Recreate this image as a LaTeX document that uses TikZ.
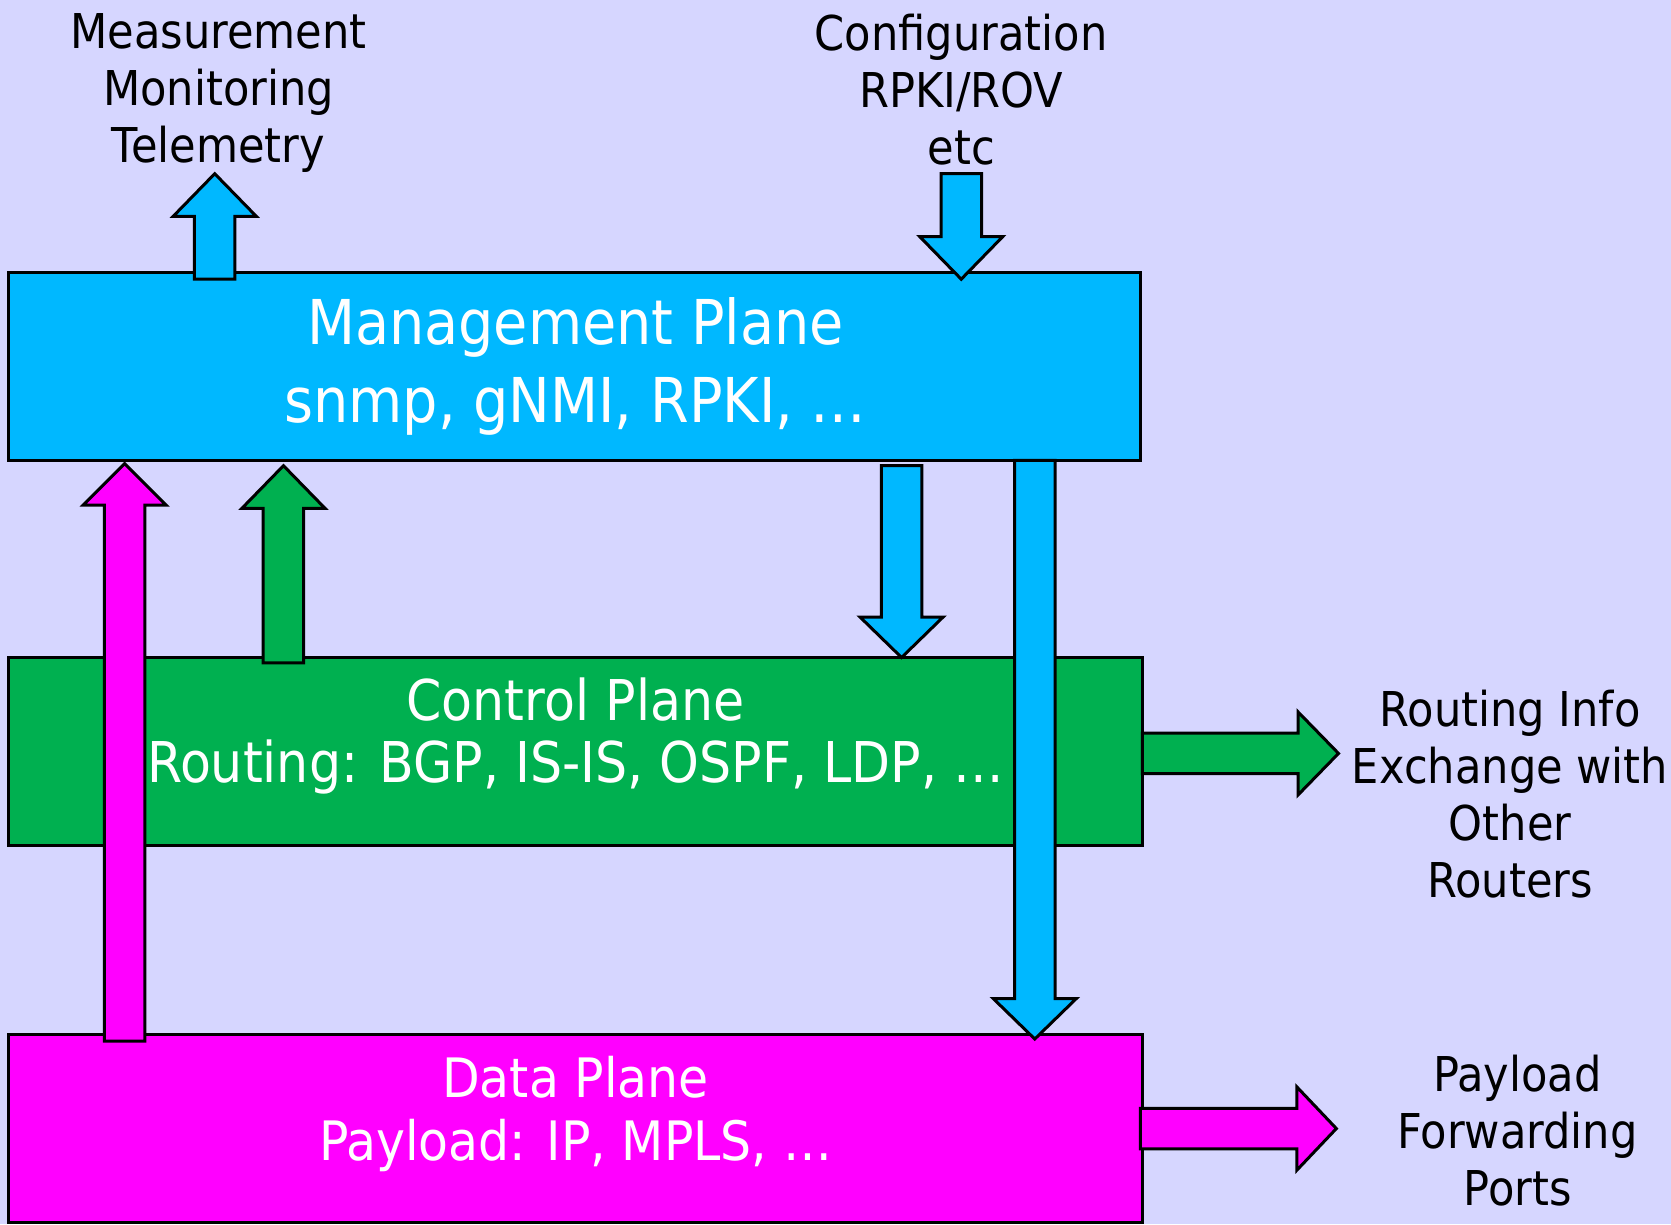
\documentclass[tikz,border=0pt]{standalone}
\usepackage{fontspec}
\setmainfont[FakeStretch=0.9]{DejaVu Sans}

\definecolor{bgcol}{RGB}{214,214,255}
\definecolor{mgmtblue}{RGB}{0,184,255}
\definecolor{ctrlgreen}{RGB}{0,176,80}
\definecolor{datamag}{RGB}{255,0,255}

\tikzset{
  plane/.style={draw=black, line width=0.8pt, minimum width=10.62cm,
    minimum height=1.76cm, inner sep=0pt},
  planetext/.style={text=white, align=center, inner sep=0pt},
  lbl/.style={align=center, inner sep=0pt,
    font=\fontsize{12.8pt}{15.2pt}\selectfont},
  blockarrow/.style={draw=black, line width=0.8pt, line join=miter}
}

% block arrows: fill, x (or y), tail, shoulder, tip
\newcommand{\varrow}[5]{%
  \draw[blockarrow, fill=#1] (#2-19,#3) -- (#2-19,#4) -- (#2-39,#4) -- (#2,#5)
    -- (#2+39,#4) -- (#2+19,#4) -- (#2+19,#3) -- cycle;}
\newcommand{\harrow}[5]{%
  \draw[blockarrow, fill=#1] (#3,#2-19) -- (#4,#2-19) -- (#4,#2-39) -- (#5,#2)
    -- (#4,#2+39) -- (#4,#2+19) -- (#3,#2+19) -- cycle;}

\begin{document}
\begin{tikzpicture}[x=0.01cm, y=-0.01cm]
  \fill[bgcol] (0,0) rectangle (1568,1149);
  \useasboundingbox (0,0) rectangle (1568,1149);

  % the three planes
  \node[plane, fill=mgmtblue] (mgmt) at (539,344) {};
  \node[plane, fill=ctrlgreen, minimum width=10.64cm] (ctrl) at (540,705) {};
  \node[plane, fill=datamag, minimum width=10.64cm] (data) at (540,1059) {};

  \node[planetext, font=\fontsize{16.5pt}{20.8pt}\selectfont] (mgmttext) at (540,344)
    {Management Plane\\snmp, gNMI, RPKI, …};
  \node[planetext, font=\fontsize{15pt}{16.6pt}\selectfont] (ctrltext) at (540,691)
    {Control Plane\\Routing: BGP, IS-IS, OSPF, LDP, …};
  \node[planetext, font=\fontsize{14.5pt}{16.8pt}\selectfont] (datatext) at (540,1045)
    {Data Plane\\Payload: IP, MPLS, …};

  % outside labels
  \node[lbl] (meas) at (205,87) {Measurement\\Monitoring\\Telemetry};
  \node[lbl] (conf) at (902,84) {Configuration\\RPKI/ROV\\etc};
  \node[lbl] (rinfo) at (1417,745) {Routing Info\\Exchange with\\Other\\Routers};
  \node[lbl] (fwd) at (1424,1061) {Payload\\Forwarding\\Ports};

  % arrows
  \varrow{mgmtblue}{201.5}{262}{203}{163}
  \varrow{mgmtblue}{902}{163}{222}{262}
  \varrow{datamag}{117}{977}{474}{435}
  \varrow{ctrlgreen}{266}{622}{477}{437}
  \varrow{mgmtblue}{846}{437}{579}{617}
  \varrow{mgmtblue}{971}{432}{937}{975}
  \harrow{ctrlgreen}{707}{1072}{1218}{1256}
  \harrow{datamag}{1059}{1070}{1217}{1254}
\end{tikzpicture}
\end{document}
